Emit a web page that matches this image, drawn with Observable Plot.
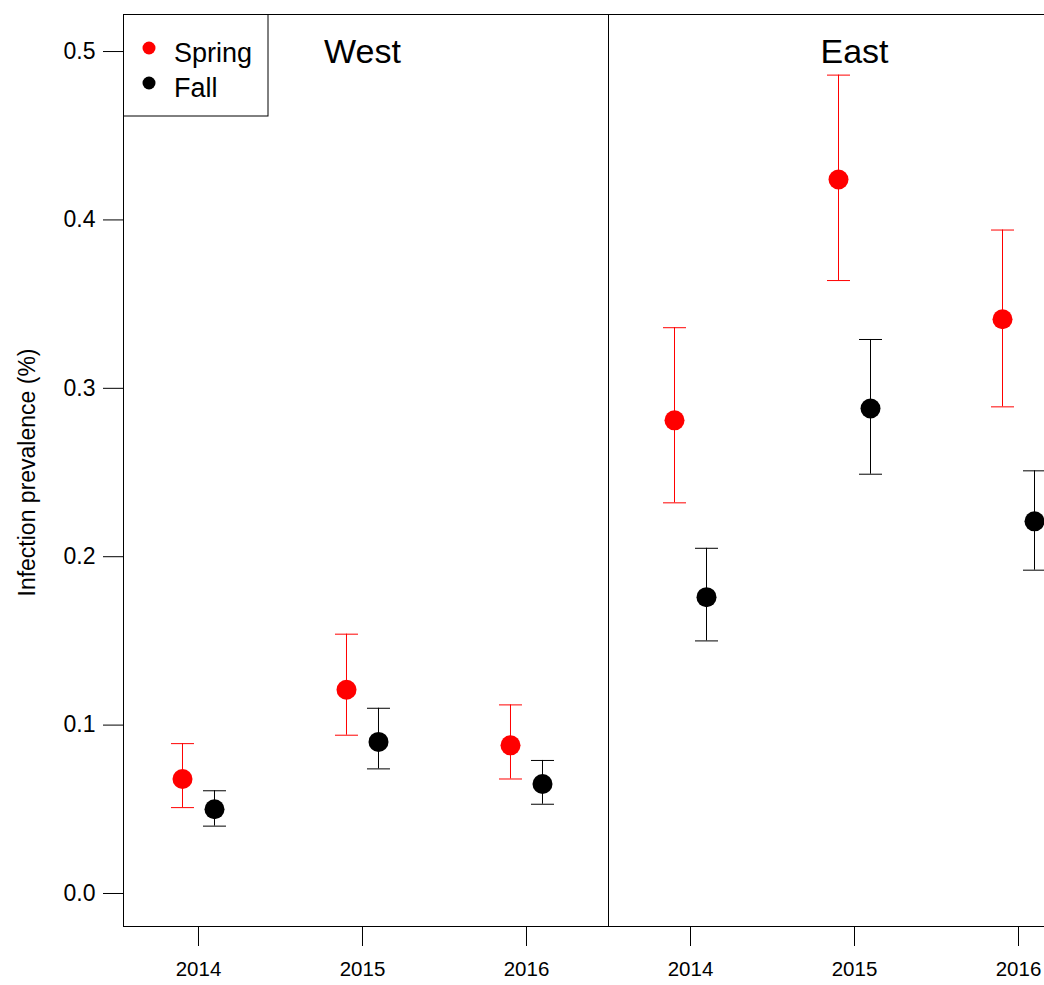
<!DOCTYPE html>
<html>
<head>
<meta charset="utf-8">
<script src="https://cdn.jsdelivr.net/npm/d3@7"></script>
<script src="https://cdn.jsdelivr.net/npm/@observablehq/plot@0.6"></script>
<style>
  html, body { margin: 0; padding: 0; background: #fff; overflow: hidden; width: 1044px; height: 985px; }
  #wrap { position: relative; width: 1113px; height: 985px; }
  #legend { position: absolute; left: 123px; top: 14px; }
</style>
</head>
<body>
<div id="wrap"></div>
<script>
const regions = ["West", "East"];
const years = ["2014", "2015", "2016"];
const seasons = ["Spring", "Fall"];
const seasonColors = ["#ff0000", "#000000"];
const springMean = [0.068, 0.121, 0.088, 0.281, 0.424, 0.341];
const springLo   = [0.051, 0.094, 0.068, 0.232, 0.364, 0.289];
const springHi   = [0.089, 0.154, 0.112, 0.336, 0.486, 0.394];
const fallMean   = [0.050, 0.090, 0.065, 0.176, 0.288, 0.221];
const fallLo     = [0.040, 0.074, 0.053, 0.150, 0.249, 0.192];
const fallHi     = [0.061, 0.110, 0.079, 0.205, 0.329, 0.251];
const yTicks = [0, 0.1, 0.2, 0.3, 0.4, 0.5];
const yLabel = "Infection prevalence (%)";

const font = "'Liberation Sans', Arial, sans-serif";

function rowsFor(mean, lo, hi) {
  const out = [];
  regions.forEach((r, ri) => years.forEach((y, yi) => {
    const i = ri * years.length + yi;
    out.push({region: r, year: y, pos: i + 1, mean: mean[i], lo: lo[i], hi: hi[i]});
  }));
  return out;
}
const springRows = rowsFor(springMean, springLo, springHi);
const fallRows = rowsFor(fallMean, fallLo, fallHi);
const seasonRows = [springRows, fallRows];
const seasonDx = [-16, 16];

const capSymbol = {
  draw(ctx, size) {
    const r = Math.sqrt(size / Math.PI);
    ctx.moveTo(-r, 0);
    ctx.lineTo(r, 0);
  }
};

const xTickVals = d3.range(1, regions.length * years.length + 1);
const titleRows = regions.map((r, ri) => ({name: r, pos: ri * years.length + (years.length + 1) / 2}));
const dividers = d3.range(1, regions.length).map(k => k * years.length + 0.5);

const marks = [];
seasonRows.forEach((rows, s) => {
  const c = seasonColors[s];
  const dx = seasonDx[s];
  marks.push(Plot.ruleX(rows, {x: "pos", y1: "lo", y2: "hi", stroke: c, strokeWidth: 1, dx}));
  marks.push(Plot.dot(rows, {x: "pos", y: "hi", symbol: capSymbol, r: 11.5, fill: "none", stroke: c, strokeWidth: 1, dx}));
  marks.push(Plot.dot(rows, {x: "pos", y: "lo", symbol: capSymbol, r: 11.5, fill: "none", stroke: c, strokeWidth: 1, dx}));
  marks.push(Plot.dot(rows, {x: "pos", y: "mean", r: 10, fill: c, stroke: "none", dx}));
});

const chart = Plot.plot({
  width: 1113,
  height: 985,
  marginLeft: 123,
  marginRight: 20,
  marginTop: 14,
  marginBottom: 59,
  style: {fontFamily: font, background: "#fff", color: "#000"},
  x: {type: "linear", domain: [0.5427, 6.4573]},
  y: {domain: [-0.0196, 0.522]},
  marks: [
    Plot.axisY({ticks: yTicks, tickSize: 20, tickPadding: 8, tickFormat: d3.format(".1f"), fontSize: 23, label: null, stroke: "#000"}),
    Plot.axisX({ticks: xTickVals, tickSize: 20, tickPadding: 15, tickFormat: d => years[(d - 1) % years.length], fontSize: 20.5, label: null, stroke: "#000"}),
    Plot.text([yLabel], {frameAnchor: "left", textAnchor: "middle", rotate: -90, dx: -96, dy: 2, fontSize: 23, lineAnchor: "middle", fill: "#000"}),
    Plot.ruleX(dividers, {stroke: "#000", strokeWidth: 1}),
    Plot.text(titleRows, {x: "pos", text: "name", frameAnchor: "top", dy: 48, lineAnchor: "bottom", fontSize: 34, fill: "#000"}),
    ...marks,
    Plot.frame({stroke: "#000", strokeWidth: 1})
  ]
});
document.getElementById("wrap").appendChild(chart);

// Legend box (top-left inside plot area)
const lg = d3.create("svg").attr("id", "legend").attr("width", 146).attr("height", 103)
  .style("font-family", font);
lg.append("rect").attr("x", 0.5).attr("y", 0.5).attr("width", 144.5).attr("height", 101.5)
  .attr("fill", "#fff").attr("stroke", "#000").attr("stroke-width", 1);
seasons.forEach((s, i) => {
  const cy = 34 + i * 35;
  lg.append("circle").attr("cx", 26).attr("cy", cy).attr("r", 6.5).attr("fill", seasonColors[i]);
  lg.append("text").attr("x", 51).attr("y", cy + 14).attr("font-size", 27).attr("fill", "#000").text(s);
});
document.getElementById("wrap").appendChild(lg.node());
</script>
</body>
</html>
